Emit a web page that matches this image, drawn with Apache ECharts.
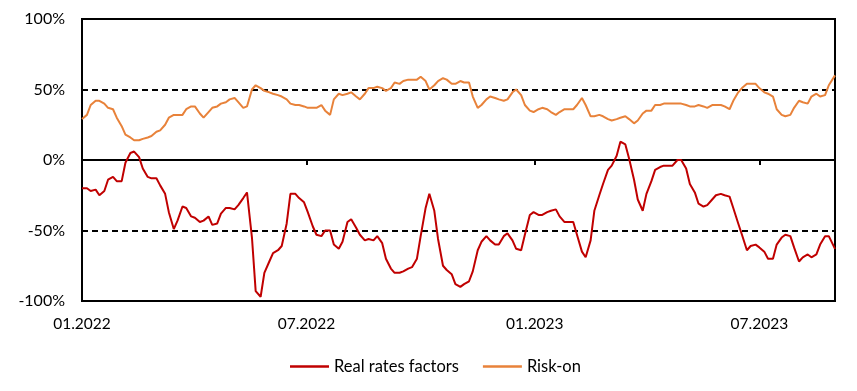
<!DOCTYPE html>
<html>
<head>
<meta charset="utf-8">
<script src="https://cdn.jsdelivr.net/npm/echarts@6/dist/echarts.min.js"></script>
<style>
html,body{margin:0;padding:0;background:#fff;}
#chart{width:857px;height:391px;}
</style>
</head>
<body>
<div id="chart"></div>
<script>
const dates = [
'2022-01-01','2022-01-05','2022-01-08','2022-01-12','2022-01-15','2022-01-19','2022-01-22','2022-01-26','2022-01-29','2022-02-02',
'2022-02-05','2022-02-09','2022-02-12','2022-02-16','2022-02-19','2022-02-23','2022-02-26','2022-03-02','2022-03-05','2022-03-09',
'2022-03-12','2022-03-16','2022-03-19','2022-03-23','2022-03-26','2022-03-30','2022-04-02','2022-04-06','2022-04-09','2022-04-13',
'2022-04-16','2022-04-20','2022-04-23','2022-04-27','2022-04-30','2022-05-04','2022-05-07','2022-05-11','2022-05-14','2022-05-18',
'2022-05-21','2022-05-25','2022-05-28','2022-06-01','2022-06-04','2022-06-08','2022-06-11','2022-06-15','2022-06-18','2022-06-22',
'2022-06-25','2022-06-29','2022-07-02','2022-07-06','2022-07-09','2022-07-13','2022-07-16','2022-07-20','2022-07-23','2022-07-27',
'2022-07-30','2022-08-03','2022-08-06','2022-08-10','2022-08-13','2022-08-17','2022-08-20','2022-08-24','2022-08-27','2022-08-31',
'2022-09-03','2022-09-07','2022-09-10','2022-09-14','2022-09-17','2022-09-21','2022-09-24','2022-09-28','2022-10-01','2022-10-05',
'2022-10-08','2022-10-12','2022-10-15','2022-10-19','2022-10-22','2022-10-26','2022-10-29','2022-11-02','2022-11-05','2022-11-09',
'2022-11-12','2022-11-16','2022-11-19','2022-11-23','2022-11-26','2022-11-30','2022-12-03','2022-12-07','2022-12-10','2022-12-14',
'2022-12-17','2022-12-21','2022-12-24','2022-12-28','2022-12-31','2023-01-04','2023-01-07','2023-01-11','2023-01-14','2023-01-18',
'2023-01-21','2023-01-25','2023-01-28','2023-02-01','2023-02-04','2023-02-08','2023-02-11','2023-02-15','2023-02-18','2023-02-22',
'2023-02-25','2023-03-01','2023-03-04','2023-03-08','2023-03-11','2023-03-15','2023-03-18','2023-03-22','2023-03-25','2023-03-29',
'2023-04-01','2023-04-05','2023-04-08','2023-04-12','2023-04-15','2023-04-19','2023-04-22','2023-04-26','2023-04-29','2023-05-03',
'2023-05-06','2023-05-10','2023-05-13','2023-05-17','2023-05-20','2023-05-24','2023-05-27','2023-05-31','2023-06-03','2023-06-07',
'2023-06-10','2023-06-14','2023-06-17','2023-06-21','2023-06-24','2023-06-28','2023-07-01','2023-07-05','2023-07-08','2023-07-12',
'2023-07-15','2023-07-19','2023-07-22','2023-07-26','2023-07-29','2023-08-02','2023-08-05','2023-08-09','2023-08-12','2023-08-16',
'2023-08-19','2023-08-23','2023-08-26','2023-08-31'
];

const realRates = [
-20,-20,-22,-21,-25,-22,-14,-12,-15,-15,
-2,5,6,2,-6,-12,-13,-13,-18,-24,
-37,-49,-43,-33,-34,-40,-41,-44,-43,-40,
-46,-45,-38,-34,-34,-35,-32,-27,-23,-55,
-93,-97,-80,-72,-66,-64,-61,-45,-24,-24,
-27,-30,-37,-47,-53,-54,-50,-50,-60,-63,
-58,-44,-42,-48,-53,-57,-56,-57,-54,-59,
-70,-77,-80,-80,-79,-77,-76,-70,-54,-34,
-24,-36,-56,-75,-78,-81,-88,-90,-88,-86,
-79,-64,-58,-54,-57,-60,-60,-54,-52,-57,
-63,-64,-53,-39,-37,-39,-39,-37,-36,-35,
-40,-44,-44,-44,-53,-65,-69,-57,-36,-25,
-17,-7,-4,3,13,11,1,-14,-28,-36,
-24,-15,-7,-5,-4,-4,-4,0,0,-6,
-17,-23,-31,-33,-32,-28,-25,-24,-25,-26,
-34,-45,-53,-64,-61,-60,-62,-65,-70,-70,
-60,-55,-53,-54,-62,-72,-69,-67,-69,-67,
-60,-54,-54,-63
];

const riskOn = [
29,32,39,42,42,40,37,36,30,24,
18,16,14,14,15,16,17,20,21,25,
30,32,32,32,36,38,38,33,30,34,
37,38,40,41,43,44,41,37,38,50,
53,51,49,48,47,46,45,43,40,39,
39,38,37,37,37,39,35,32,43,47,
46,47,48,45,43,47,51,51,52,51,
49,51,55,54,56,57,57,57,59,56,
50,53,56,58,57,54,54,56,55,55,
45,37,39,43,45,44,43,42,43,48,
50,46,39,35,34,36,37,36,34,32,
34,36,36,36,39,44,39,31,31,32,
31,29,28,29,30,31,29,26,28,33,
35,35,39,39,40,40,40,40,40,39,
38,38,39,38,37,39,39,39,38,36,
42,48,51,54,54,54,51,48,47,45,
36,32,31,32,37,42,41,40,45,47,
45,46,53,60
];

const yTicks = [-100, -50, 0, 50, 100];
const tickDates = ['2022-01-01','2022-07-01','2023-01-01','2023-07-01'];
const tickLabels = ['01.2022','07.2022','01.2023','07.2023'];
const xMin = '2022-01-01';
const xMax = '2023-08-31';
const seriesNames = ['Real rates factors','Risk-on'];

function ts(s){ return new Date(s + 'T00:00:00').getTime(); }
const tickTs = tickDates.map(ts);

const chart = echarts.init(document.getElementById('chart'), null, {renderer:'canvas'});
const font = 'Lato';
chart.setOption({
  animation:false,
  backgroundColor:'#fff',
  grid:{left:82,right:22,top:19,bottom:90,show:true,borderColor:'#000',borderWidth:2,backgroundColor:'transparent'},
  legend:{
    data:[{name:seriesNames[0],icon:'rect'},{name:seriesNames[1],icon:'rect'}],
    left:285, top:353,
    itemWidth:39, itemHeight:2.5, itemGap:24,
    textStyle:{fontFamily:font,fontSize:16.5,color:'#000'}
  },
  xAxis:[
    {type:'value',min:ts(xMin),max:ts(xMax),position:'bottom',scale:true,
     axisLine:{onZero:true,lineStyle:{color:'#000',width:2}},
     axisTick:{show:true,customValues:tickTs,length:5,lineStyle:{color:'#000',width:2}},
     axisLabel:{show:false},splitLine:{show:false}},
    {type:'value',min:ts(xMin),max:ts(xMax),position:'bottom',scale:true,
     axisLine:{show:false},axisTick:{show:false},splitLine:{show:false},
     axisLabel:{show:true,customValues:tickTs,margin:15,fontFamily:font,fontSize:15.5,color:'#000',
       formatter:function(v){ const i = tickTs.indexOf(v); return i>=0 ? tickLabels[i] : ''; }}}
  ],
  yAxis:{type:'value',min:yTicks[0],max:yTicks[yTicks.length-1],interval:50,
    axisLine:{show:true,lineStyle:{color:'#000',width:2}},
    axisTick:{show:false},
    axisLabel:{margin:17,fontFamily:font,fontSize:16,color:'#000',formatter:'{value}%'},
    splitLine:{show:true,lineStyle:{color:'#000',width:2,type:[6,4]}}
  },
  series:[
    {name:seriesNames[0],type:'line',xAxisIndex:0,symbol:'none',showSymbol:false,
     color:'#C00000',lineStyle:{color:'#C00000',width:2},
     data:dates.map((d,i)=>[ts(d),realRates[i]])},
    {name:seriesNames[1],type:'line',xAxisIndex:0,symbol:'none',showSymbol:false,
     color:'#E8823A',lineStyle:{color:'#E8823A',width:2},
     data:dates.map((d,i)=>[ts(d),riskOn[i]])}
  ]
});
</script>
</body>
</html>
